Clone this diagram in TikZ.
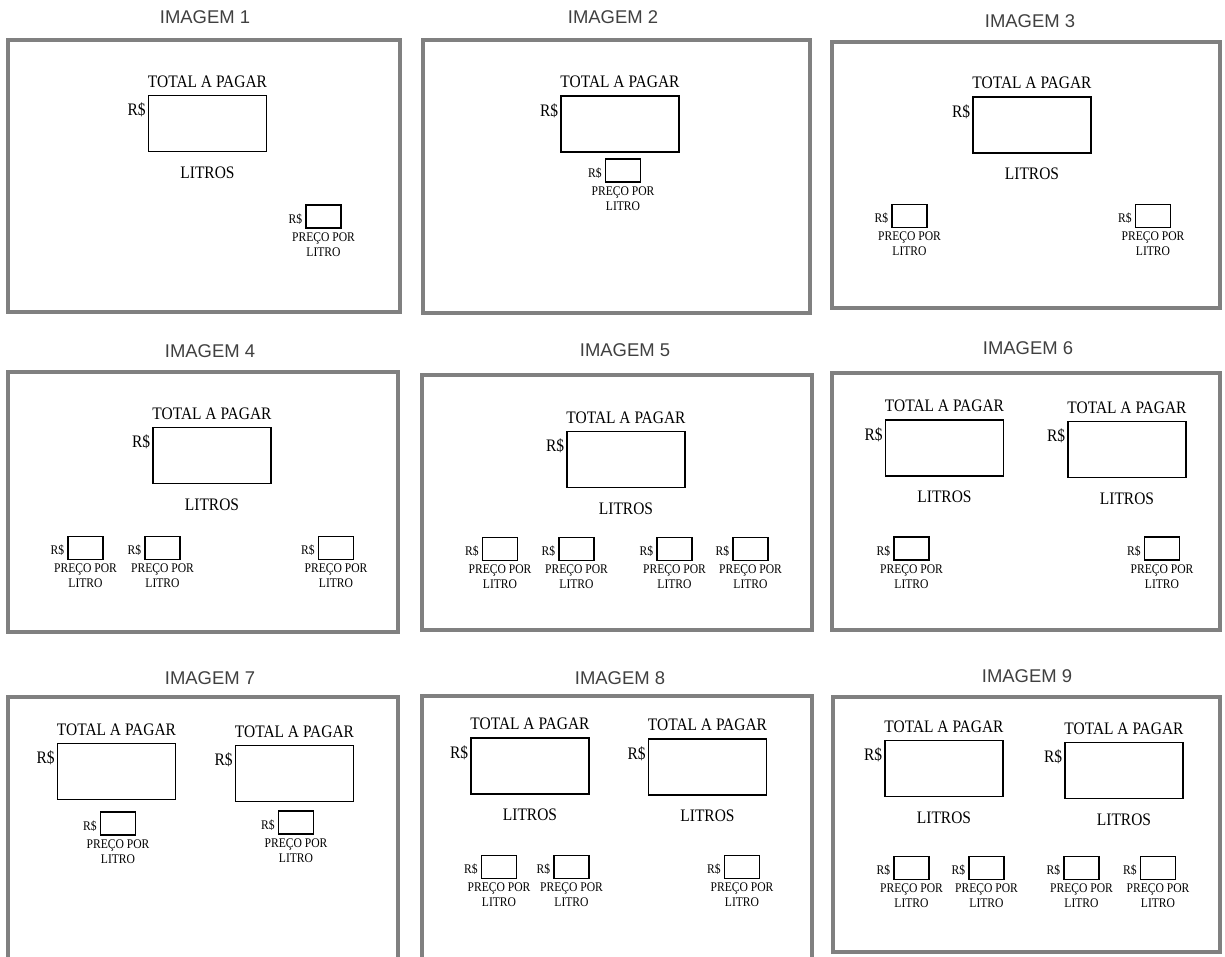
\documentclass[tikz,border=0pt]{standalone}
\usepackage{fontspec}
\setsansfont{Liberation Sans}
\newfontfamily\visorfont{Liberation Serif}[FakeStretch=0.88]
\usetikzlibrary{positioning}
\definecolor{moldura}{RGB}{128,128,128}
\definecolor{titcor}{RGB}{64,64,64}
\tikzset{
  frame/.style={draw=moldura, line width=0.75mm},
  titulo/.style={font=\sffamily\fontsize{10.5}{12}\selectfont, text=titcor, inner sep=0pt},
  txtg/.style={font=\visorfont\fontsize{10}{12}\selectfont, inner sep=0pt},
  txtp/.style={font=\visorfont\fontsize{7.5}{8.5}\selectfont, inner sep=0pt},
  visor/.style={draw, line width=0.6pt, minimum width=23.6mm, minimum height=11.2mm, inner sep=0pt,
    label={[txtg, anchor=south, yshift=1.4mm]north:TOTAL A PAGAR},
    label={[txtg, anchor=north east, xshift=-0.4mm, yshift=-1.5mm]north west:R\$}},
  visorlt/.style={visor, label={[txtg, anchor=north, yshift=-2.8mm]south:LITROS}},
  preco/.style={draw, line width=0.6pt, minimum width=7mm, minimum height=4.6mm, inner sep=0pt,
    label={[txtp, anchor=east, xshift=-0.6mm, yshift=-0.5mm]west:R\$},
    label={[txtp, align=center, anchor=north, yshift=-0.7mm]south:{PREÇO POR\\LITRO}}}
}
\begin{document}
\begin{tikzpicture}[x=0.2mm, y=-0.2mm]
\clip (0,0) rectangle (1225,956);
% molduras
\draw[frame] (8,40) rectangle (400,312);
\draw[frame] (423,40) rectangle (810,313);
\draw[frame] (832,42) rectangle (1220,308);
\draw[frame] (8,372) rectangle (398,632);
\draw[frame] (422,375) rectangle (812,630);
\draw[frame] (832,373) rectangle (1220,630);
\draw[frame] (8,697) rectangle (398,975);
\draw[frame] (422,696) rectangle (812,975);
\draw[frame] (833,697) rectangle (1220,952);
% titulos
\node[titulo] (tit1) at (205,17) {IMAGEM 1};
\node[titulo] (tit2) at (613,17) {IMAGEM 2};
\node[titulo] (tit3) at (1030,21) {IMAGEM 3};
\node[titulo] (tit4) at (210,351) {IMAGEM 4};
\node[titulo] (tit5) at (625,350) {IMAGEM 5};
\node[titulo] (tit6) at (1028,348) {IMAGEM 6};
\node[titulo] (tit7) at (210,678) {IMAGEM 7};
\node[titulo] (tit8) at (620,678) {IMAGEM 8};
\node[titulo] (tit9) at (1027,676) {IMAGEM 9};
% imagem 1
\node[visorlt] (v1) at (207.5,123.5) {};
\node[preco] (p1) at (323.5,216.5) {};
% imagem 2
\node[visor] (v2) at (620,124) {};
\node[preco] (p2) at (623,170.5) {};
% imagem 3
\node[visorlt] (v3) at (1032,125) {};
\node[preco] (p3a) at (909.5,216) {};
\node[preco] (p3b) at (1153,216) {};
% imagem 4
\node[visorlt] (v4) at (212,455.5) {};
\node[preco] (p4a) at (85.5,548) {};
\node[preco] (p4b) at (162.5,548) {};
\node[preco] (p4c) at (336,548) {};
% imagem 5
\node[visorlt] (v5) at (626,459.5) {};
\node[preco] (p5a) at (500,549) {};
\node[preco] (p5b) at (576.5,549) {};
\node[preco] (p5c) at (674.5,549) {};
\node[preco] (p5d) at (750.5,549) {};
% imagem 6
\node[visorlt] (v6a) at (944.5,448) {};
\node[visorlt] (v6b) at (1127,449.5) {};
\node[preco] (p6a) at (911.5,548.5) {};
\node[preco] (p6b) at (1162,548.5) {};
% imagem 7
\node[visor] (v7a) at (116.5,771.5) {};
\node[visor] (v7b) at (294.5,773.5) {};
\node[preco] (p7a) at (118,823.5) {};
\node[preco] (p7b) at (296,822.5) {};
% imagem 8
\node[visorlt] (v8a) at (530,766) {};
\node[visorlt] (v8b) at (707.5,767) {};
\node[preco] (p8a) at (499,867) {};
\node[preco] (p8b) at (571.5,867) {};
\node[preco] (p8c) at (742,867) {};
% imagem 9
\node[visorlt] (v9a) at (944,768.5) {};
\node[visorlt] (v9b) at (1124,770.5) {};
\node[preco] (p9a) at (911.5,868) {};
\node[preco] (p9b) at (986.5,868) {};
\node[preco] (p9c) at (1081.5,868) {};
\node[preco] (p9d) at (1158,868) {};
\end{tikzpicture}
\end{document}
